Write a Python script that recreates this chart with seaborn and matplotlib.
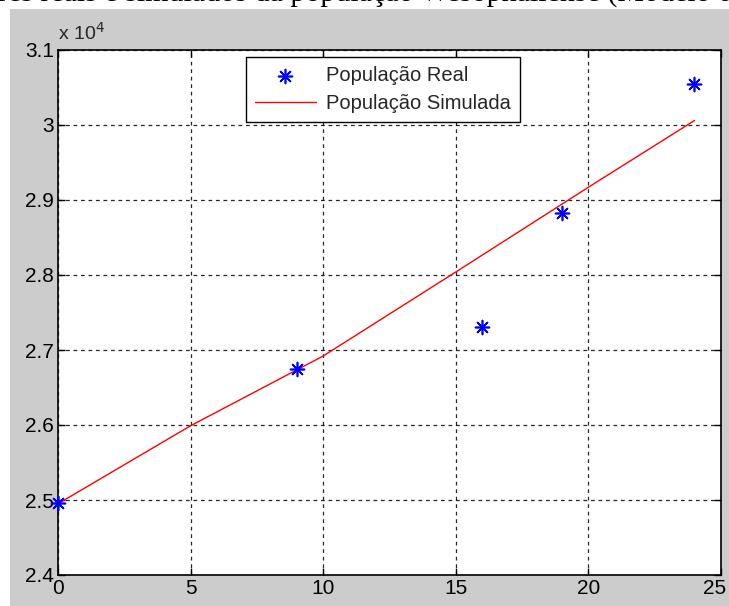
import matplotlib
matplotlib.use("Agg")
import matplotlib.pyplot as plt
import seaborn as sns
import pandas as pd
from matplotlib.ticker import FuncFormatter
from matplotlib.patches import Rectangle
from matplotlib.transforms import ScaledTranslation

# Data
years_real = [0, 9, 16, 19, 24]
pop_real = [24960, 26750, 27300, 28830, 30550]
years_sim = [0, 5, 10, 15, 20, 24]
pop_sim = [24950, 25990, 26920, 28040, 29170, 30060]
x_ticks = [0, 5, 10, 15, 20, 25]
y_ticks = [24000, 25000, 26000, 27000, 28000, 29000, 30000, 31000]
caption_prefix = "Valores reais e simulados da "
caption_rest = "população Wesophaliense (Modelo de Malthus)"

sns.set_theme(style="white")
plt.rcParams['font.family'] = ['Liberation Sans', 'DejaVu Sans']

fig = plt.figure(figsize=(7.29, 6.06), dpi=100)
fig.patch.set_facecolor("white")
fig.patches.append(Rectangle((10 / 729, 0), 1, 1 - 9 / 606, transform=fig.transFigure,
                             facecolor="#cccccc", edgecolor="none", zorder=-10))

# caption of the document, cut off at the top edge as in the screenshot
serif = ["Liberation Serif", "DejaVu Serif"]
cap_fs = 21.6
renderer = fig.canvas.get_renderer()
probe = fig.text(0, 0, caption_prefix, fontsize=cap_fs, family=serif)
w_prefix = probe.get_window_extent(renderer).width
probe.remove()
fig.text((290 - w_prefix) / 729, 1 - 1 / 606, caption_prefix + caption_rest,
         ha="left", va="baseline", fontsize=cap_fs, family=serif, color="black")

ax = fig.add_axes([58 / 729, 1 - 575 / 606, (721 - 58) / 729, (575 - 50) / 606])
ax.set_facecolor("white")

df_real = pd.DataFrame({"x": years_real, "y": pop_real})
df_sim = pd.DataFrame({"x": years_sim, "y": pop_sim})

sns.scatterplot(data=df_real, x="x", y="y", ax=ax, marker=(8, 2, 0), s=100,
                color="blue", linewidth=1.2, edgecolor="blue", label="População Real",
                zorder=5, clip_on=False)
sns.lineplot(data=df_sim, x="x", y="y", ax=ax, color="red", linewidth=1.0,
             label="População Simulada", zorder=4)

ax.set_xlim(0, 25)
ax.set_ylim(24000, 31000)
ax.set_xticks(x_ticks)
ax.set_yticks(y_ticks)
ax.yaxis.set_major_formatter(FuncFormatter(lambda v, p: f"{v/1e4:g}"))
ax.set_xlabel("")
ax.set_ylabel("")
ax.grid(True, color="black", linestyle=(0, (3, 3)), linewidth=0.9, alpha=0.85)
ax.tick_params(direction="in", length=5, width=1, colors="black", labelsize=15,
               top=True, right=True, bottom=True, left=True, pad=3)
for s in ax.spines.values():
    s.set_color("black")
    s.set_linewidth(1.2)

# keep the last x label inside the canvas, as in the screenshot
last = ax.get_xticklabels()[-1]
last.set_transform(last.get_transform() + ScaledTranslation(-6 / 100, 0, fig.dpi_scale_trans))

ax.text(0.0, 1.012, r"x 10$^{4}$", transform=ax.transAxes, fontsize=14, ha="left", va="bottom")

leg = ax.legend(loc="upper center", bbox_to_anchor=(0.49, 0.9867), borderaxespad=0,
                fontsize=14.5, frameon=True, fancybox=False, edgecolor="black", framealpha=1,
                borderpad=0.45, handlelength=3.0, handletextpad=0.5, labelspacing=0.45)
leg.get_frame().set_linewidth(1.0)

fig.savefig("out.png", dpi=100, facecolor=fig.get_facecolor())
